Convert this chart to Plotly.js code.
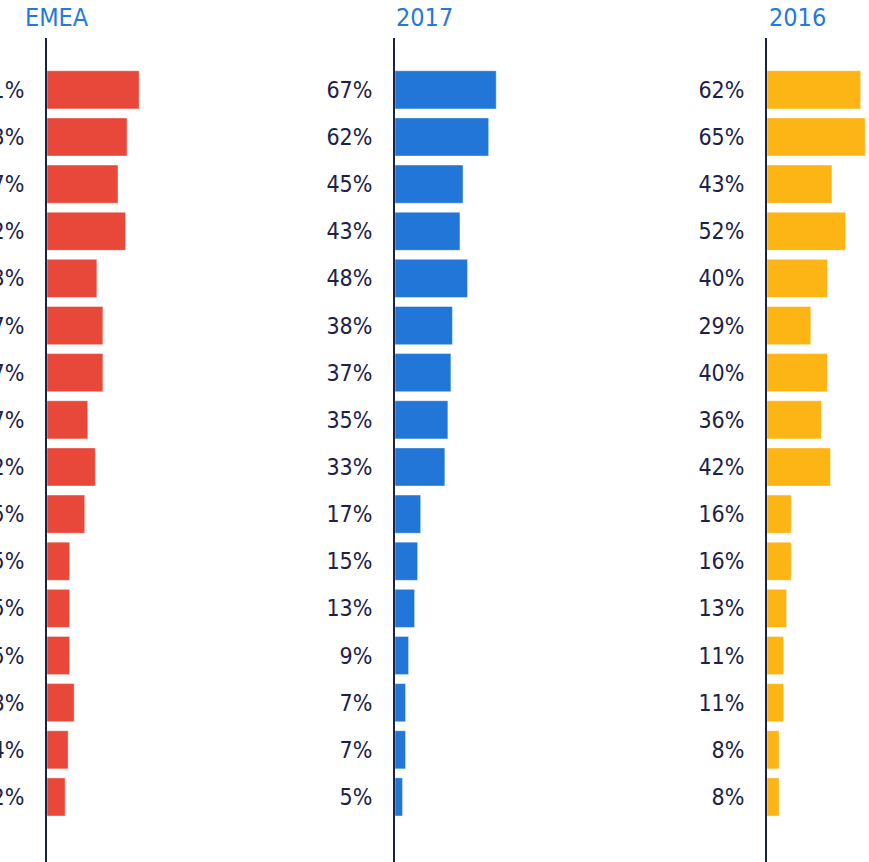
<!DOCTYPE html>
<html>
<head>
<meta charset="utf-8">
<script src="https://cdn.plot.ly/plotly-3.0.1.min.js"></script>
<style>html,body{margin:0;padding:0;background:#fff;}#chart{width:869px;height:862px;}</style>
</head>
<body>
<div id="chart"></div>
<script>
// Categories (names cut off in the reference; kept as row identifiers)
const categories = ["R1","R2","R3","R4","R5","R6","R7","R8","R9","R10","R11","R12","R13","R14","R15","R16"];
const panelTitles = ["EMEA", "2017", "2016"];
const emeaValues = [61, 53, 47, 52, 33, 37, 37, 27, 32, 25, 15, 15, 15, 18, 14, 12];
const y2017Values = [67, 62, 45, 43, 48, 38, 37, 35, 33, 17, 15, 13, 9, 7, 7, 5];
const y2016Values = [62, 65, 43, 52, 40, 29, 40, 36, 42, 16, 16, 13, 11, 11, 8, 8];
const colors = ["#E8483A", "#2176D8", "#FDB415"];

const series = [emeaValues, y2017Values, y2016Values];
const W = 869;
const domains = [[47/W, 149/W], [395/W, 497/W], [767/W, 1]];
const navy = "#1c2149";
const font = "'DejaVu Sans Condensed', 'DejaVu Sans', Verdana, sans-serif";

const traces = series.map((vals, i) => ({
  type: "bar",
  orientation: "h",
  x: vals,
  y: categories,
  xaxis: i === 0 ? "x" : "x" + (i + 1),
  yaxis: i === 0 ? "y" : "y" + (i + 1),
  marker: {color: colors[i], line: {color: "rgba(255,255,255,0.45)", width: 1}},
  hoverinfo: "x+y",
  showlegend: false
}));

const layout = {
  width: 869, height: 862,
  margin: {l: 0, r: 0, t: 38, b: 0},
  paper_bgcolor: "#fff", plot_bgcolor: "#fff",
  bargap: 0.19,
  font: {family: font, color: navy},
  annotations: []
};

const titleX = [56.5, 424.5, 797.5];
series.forEach((vals, i) => {
  const xk = i === 0 ? "xaxis" : "xaxis" + (i + 1);
  const yk = i === 0 ? "yaxis" : "yaxis" + (i + 1);
  const xid = i === 0 ? "x" : "x" + (i + 1);
  layout[xk] = {
    domain: domains[i], range: [0, 67.5], visible: false, fixedrange: true
  };
  layout[yk] = {
    anchor: xid,
    domain: [0, 1],
    type: "category",
    range: [16.38, -1.1],
    showline: true, linecolor: navy, linewidth: 2,
    showgrid: false, zeroline: false,
    ticks: "outside", ticklen: 16, tickcolor: "rgba(0,0,0,0)",
    tickmode: "array",
    tickvals: categories,
    ticktext: vals.map(v => v + "%"),
    tickfont: {family: font, size: 23, color: navy}
  };
  layout.annotations.push({
    text: panelTitles[i],
    xref: "paper", yref: "paper",
    x: titleX[i] / W, xanchor: "center",
    y: 1 + (38 - 17) / 824, yanchor: "middle",
    showarrow: false,
    font: {family: font, size: 25, color: "#2579D8"}
  });
});

Plotly.newPlot("chart", traces, layout, {displayModeBar: false, staticPlot: true});
</script>
</body>
</html>
